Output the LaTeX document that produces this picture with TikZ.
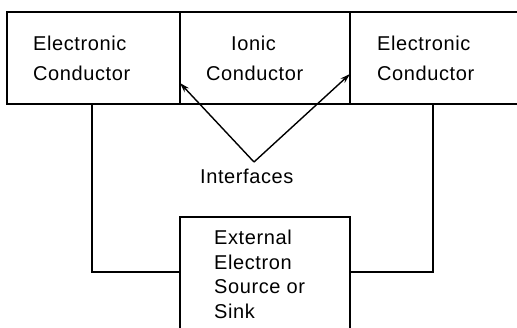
\documentclass[tikz,border=0pt]{standalone}
\usepackage{fontspec}
\usepackage{tikz}
\usetikzlibrary{arrows.meta, positioning}
\newfontfamily\lettering[LetterSpace=3]{Liberation Sans}

\begin{document}
\begin{tikzpicture}[
  x=1pt, y=-1pt,
  box/.style={draw, line width=1.8pt, minimum height=92pt, inner sep=0pt},
  txt/.style={anchor=base west, align=left, inner sep=0pt, font=\lettering\fontsize{20}{30}\selectfont},
  wire/.style={line width=1.8pt},
  arr/.style={-{Stealth[length=10pt, width=6pt]}, line width=1.4pt}
]
\useasboundingbox (0,0) rectangle (517,327);

% conductors along the top
\node[box, minimum width=173pt] (lcond) at (93.5,58) {};
\node[box, minimum width=170pt] (icond) at (265,58) {};
\node[box, minimum width=170pt] (rcond) at (435,58) {};

% external source / sink
\node[box, minimum width=170pt, minimum height=123pt] (ext) at (265,278.5) {};

% base anchor sits on the last line
\node[txt] (ltext) at (33,80) {Electronic\\Conductor};
\node[txt] (itext) at (206,80) {\hspace*{25pt}Ionic\\Conductor};
\node[txt] (rtext) at (377,80) {Electronic\\Conductor};
\node[txt, font=\lettering\fontsize{20}{24.5}\selectfont] (etext) at (214,318) {External\\Electron\\Source or\\Sink};
\node[txt] (ifaces) at (200,183) {Interfaces};

\coordinate (vtx) at (254,162);
\coordinate (lif) at (180,83);
\coordinate (rif) at (350,74);

\draw[arr] (vtx) -- (lif);
\draw[arr] (vtx) -- (rif);

\draw[wire] ([xshift=-1.5pt]lcond.south) |- ([yshift=6.5pt]ext.west);
\draw[wire] ([xshift=-2pt]rcond.south) |- ([yshift=6.5pt]ext.east);

\end{tikzpicture}
\end{document}
